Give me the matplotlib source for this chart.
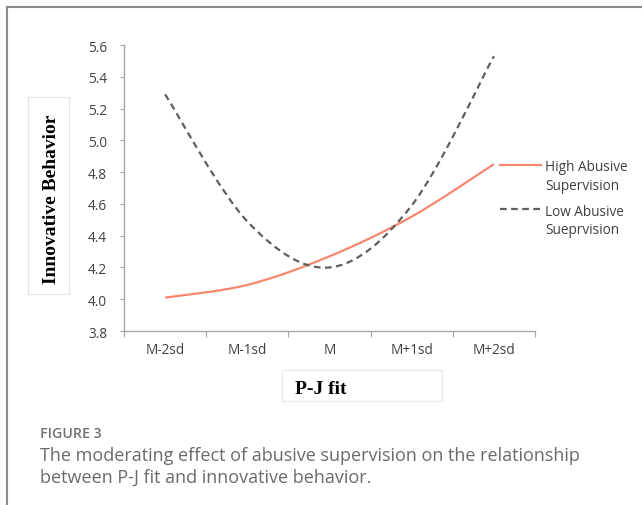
import matplotlib
matplotlib.use('Agg')
import matplotlib.pyplot as plt
from matplotlib.path import Path
from matplotlib.patches import PathPatch, Rectangle
from matplotlib.lines import Line2D

# data
categories = ['M-2sd', 'M-1sd', 'M', 'M+1sd', 'M+2sd']
high_abusive = [4.01, 4.09, 4.27, 4.52, 4.85]
low_abusive = [5.29, 4.49, 4.20, 4.59, 5.53]
yticks = [3.8, 4.0, 4.2, 4.4, 4.6, 4.8, 5.0, 5.2, 5.4, 5.6]

W, H = 642, 506


def fx(x):
    return x / W


def fy(y):
    return 1 - y / H


def smooth_path(xs, ys):
    # excel style smoothed line: bezier segments through every point
    pts = list(zip(xs, ys))
    n = len(pts)
    verts = [pts[0]]
    codes = [Path.MOVETO]
    for i in range(n - 1):
        p0 = pts[max(i - 1, 0)]
        p1 = pts[i]
        p2 = pts[i + 1]
        p3 = pts[min(i + 2, n - 1)]
        c1 = (p1[0] + (p2[0] - p0[0]) / 6, p1[1] + (p2[1] - p0[1]) / 6)
        c2 = (p2[0] - (p3[0] - p1[0]) / 6, p2[1] - (p3[1] - p1[1]) / 6)
        verts += [c1, c2, p2]
        codes += [Path.CURVE4] * 3
    return Path(verts, codes)


fig = plt.figure(figsize=(W / 100, H / 100), dpi=100)
ax = fig.add_axes([fx(124), fy(332), fx(535) - fx(124), fy(46) - fy(332)])

xs = list(range(len(categories)))
high_col = '#f7886e'
low_col = '#5f5f5f'
ax.add_patch(PathPatch(smooth_path(xs, high_abusive), fill=False,
                       edgecolor=high_col, lw=1.6, capstyle='butt'))
ax.add_patch(PathPatch(smooth_path(xs, low_abusive), fill=False,
                       edgecolor=low_col, lw=1.6, linestyle=(0, (3, 2))))

ax.set_xlim(-0.5, len(categories) - 0.5)
ax.set_ylim(3.8, 5.6)
ax.set_yticks(yticks)
ax.set_yticklabels(['%.1f' % v for v in yticks])
ax.set_xticks([i - 0.5 for i in range(len(categories) + 1)])
ax.set_xticklabels([])
ax.set_xticks(xs, minor=True)
ax.set_xticklabels(categories, minor=True)

for s in ['top', 'right']:
    ax.spines[s].set_visible(False)
for s in ['left', 'bottom']:
    ax.spines[s].set_color('#a6a6a6')
    ax.spines[s].set_linewidth(1.0)

tick_font = dict(family='Open Sans', size=9.8, color='#404040')
ax.tick_params(axis='y', length=3, color='#a6a6a6', pad=9)
ax.tick_params(axis='x', which='major', length=4, color='#a6a6a6')
ax.tick_params(axis='x', which='minor', length=0, pad=8)
for lab in ax.get_yticklabels() + ax.get_xticklabels(minor=True):
    lab.set_fontfamily('Open Sans')
    lab.set_fontsize(9.8)
    lab.set_color('#404040')

# legend at the right, line keys level with first text line
ax.add_line(Line2D([0.915, 1.015], [0.581, 0.581], transform=ax.transAxes,
                   color=high_col, lw=1.6, clip_on=False))
ax.add_line(Line2D([0.915, 1.015], [0.426, 0.426], transform=ax.transAxes,
                   color=low_col, lw=1.6, linestyle=(0, (3, 2)), clip_on=False))
ax.text(1.025, 0.60, 'High Abusive\nSupervision', transform=ax.transAxes,
        va='top', ha='left', linespacing=1.3, **tick_font)
ax.text(1.025, 0.445, 'Low Abusive\nSueprvision', transform=ax.transAxes,
        va='top', ha='left', linespacing=1.3, **tick_font)

# axis titles in light boxes
fig.add_artist(Rectangle((fx(28), fy(295)), fx(69) - fx(28), fy(98) - fy(295),
                         transform=fig.transFigure, facecolor='white',
                         edgecolor='#e4e4e4', lw=0.8))
fig.text(fx(52), fy(199), 'Innovative Behavior', rotation=90, ha='center',
         va='center', family='Liberation Serif', weight='bold', size=14)
fig.add_artist(Rectangle((fx(282), fy(402)), fx(442) - fx(282), fy(371) - fy(402),
                         transform=fig.transFigure, facecolor='white',
                         edgecolor='#e8e8e8', lw=0.8))
fig.text(fx(295), fy(394), 'P-J fit', ha='left', va='baseline',
         family='Liberation Serif', weight='bold', size=14)

# card frame
fig.add_artist(Line2D([fx(7), 1.0], [fy(8), fy(8)], transform=fig.transFigure,
                      color='#8a8a8a', lw=1.5))
fig.add_artist(Line2D([fx(7), fx(7)], [fy(8), 0.0], transform=fig.transFigure,
                      color='#8a8a8a', lw=1.5))

# caption
fig.text(fx(40), fy(438), 'FIGURE 3', family='Open Sans', size=10.2,
         weight='semibold', color='#707070', ha='left', va='baseline')
fig.text(fx(40), fy(461), 'The moderating effect of abusive supervision on the relationship',
         family='Open Sans', size=13, color='#6a6a6a', ha='left', va='baseline')
fig.text(fx(40), fy(483), 'between P-J fit and innovative behavior.',
         family='Open Sans', size=13, color='#6a6a6a', ha='left', va='baseline')

fig.savefig('out.png', dpi=100)
